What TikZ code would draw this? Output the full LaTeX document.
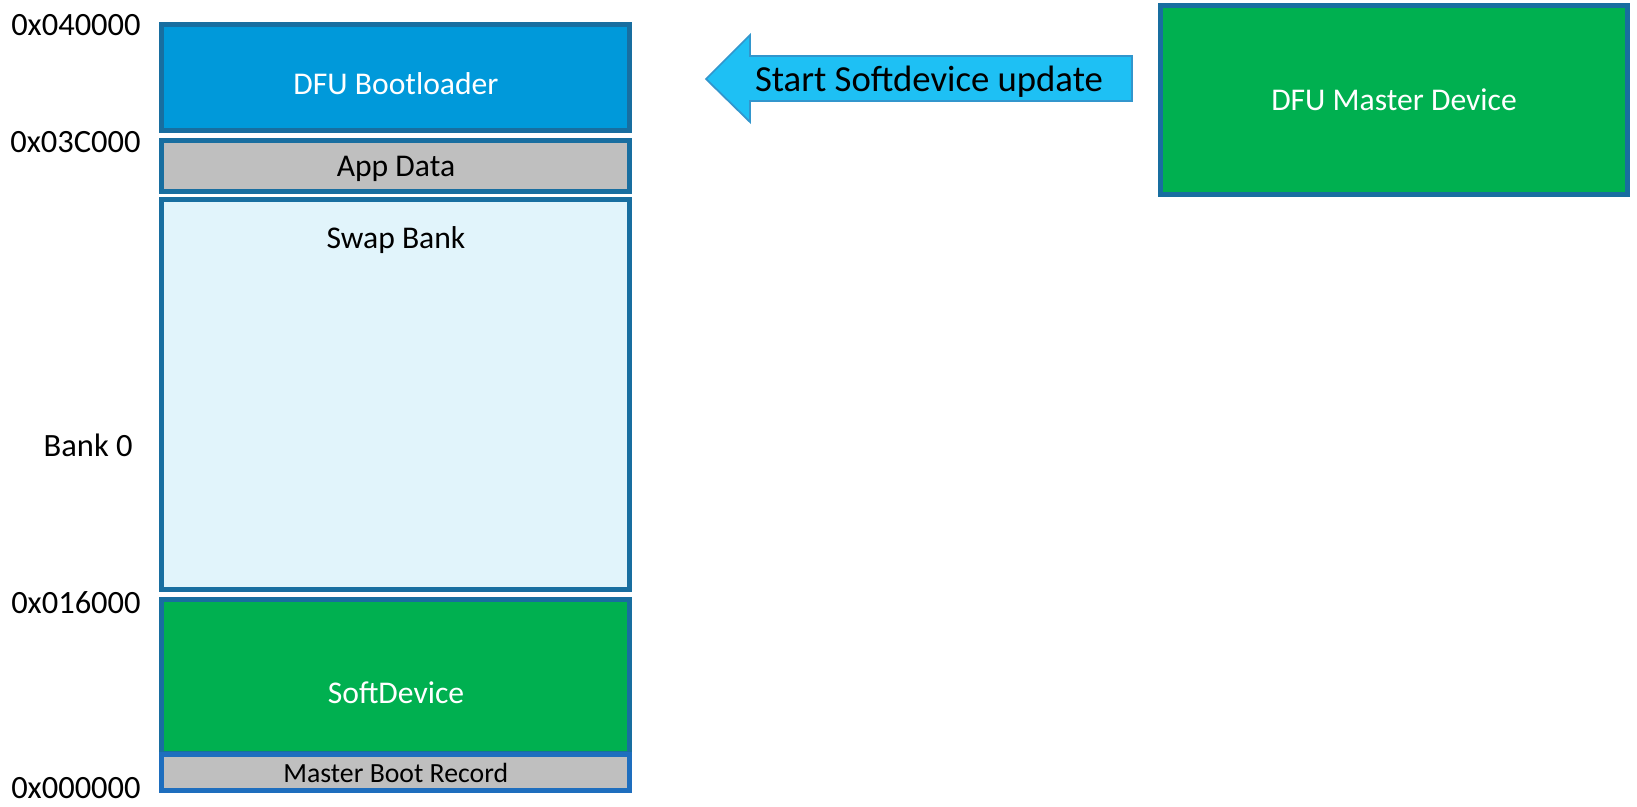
\documentclass[tikz,border=0pt]{standalone}
\usepackage{fontspec}
\setmainfont{Carlito}
\definecolor{memline}{RGB}{24,110,160}
\definecolor{mbrline}{RGB}{30,110,190}
\definecolor{bootfill}{RGB}{0,153,218}
\definecolor{appfill}{RGB}{191,191,191}
\definecolor{swapfill}{RGB}{225,244,251}
\definecolor{softfill}{RGB}{0,176,80}
\definecolor{arrowfill}{RGB}{30,192,244}
\definecolor{arrowline}{RGB}{50,150,205}
\tikzset{
  membox/.style={rectangle, draw=memline, line width=0.1cm, minimum width=9.37cm, inner sep=0pt},
  addr/.style={anchor=east, inner sep=0pt, font=\fontsize{18.5}{20}\selectfont},
  boxtext/.style={inner sep=0pt, font=\fontsize{18}{20}\selectfont},
  smalltext/.style={inner sep=0pt, font=\fontsize{15.8}{18}\selectfont},
  updtext/.style={inner sep=0pt, font=\fontsize{20.9}{24}\selectfont}
}
\begin{document}
\begin{tikzpicture}[x=0.02cm, y=-0.02cm]
  \useasboundingbox (0,0) rectangle (1637,807);

  % memory map
  \node[membox, fill=bootfill, minimum height=2.13cm] (boot) at (395.75,77.75) {};
  \node[membox, fill=appfill, minimum height=1.02cm] (app) at (395.75,166) {};
  \node[membox, fill=swapfill, minimum height=7.8cm] (swap) at (395.75,394.5) {};
  \node[membox, fill=softfill, minimum height=3.09cm] (soft) at (395.75,676.75) {};
  \node[membox, draw=mbrline, fill=appfill, minimum height=0.74cm, smalltext] (mbr) at (395.75,772.5) {Master Boot Record};
  \node[boxtext, text=white] (boottxt) at (396,84) {DFU Bootloader};
  \node[boxtext] (apptxt) at (396,169) {App Data};
  \node[boxtext] (swaptxt) at (396,240) {Swap Bank};
  \node[boxtext, text=white] (softtxt) at (396,693) {SoftDevice};

  % addresses
  \node[addr] (a40) at (141,25) {0x040000};
  \node[addr] (a3c) at (141,142) {0x03C000};
  \node[addr] (bank) at (133,445) {Bank 0};
  \node[addr] (a16) at (141,603) {0x016000};
  \node[addr] (a00) at (141,788) {0x000000};

  % master device
  \node[membox, fill=softfill, minimum width=9.36cm, minimum height=3.77cm, boxtext, text=white] (master) at (1394,100) {DFU Master Device};

  % update arrow
  \draw[arrowline, fill=arrowfill, line width=1pt, line join=miter]
    (706,79) -- (750,35) -- (750,56) -- (1132,56) -- (1132,101) -- (750,101) -- (750,122) -- cycle;
  \node[updtext] (upd) at (929,82) {Start Softdevice update};
\end{tikzpicture}
\end{document}
